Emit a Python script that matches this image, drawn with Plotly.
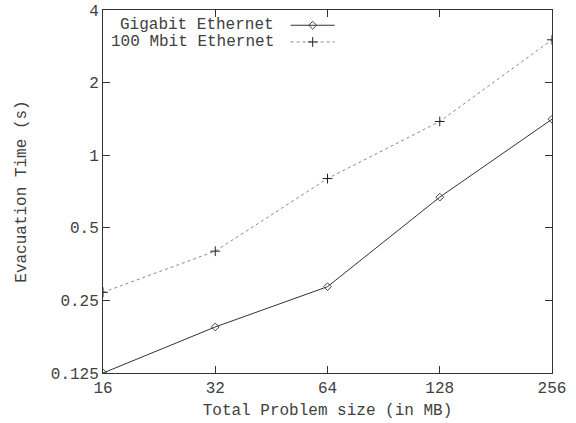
import plotly.graph_objects as go
import math

sizes = [16, 32, 64, 128, 256]
gigabit = [0.125, 0.194, 0.285, 0.67, 1.41]
mbit100 = [0.27, 0.40, 0.80, 1.38, 3.01]
xticks = [16, 32, 64, 128, 256]
yticks = [0.125, 0.25, 0.5, 1, 2, 4]
yticktext = ["0.125", "0.25", "0.5", "1", "2", "4"]
names = ["Gigabit Ethernet", "100 Mbit Ethernet"]

FONT = "Liberation Mono"
FS = 16
TXT = "#404040"
fig = go.Figure()
fig.add_trace(go.Scatter(x=sizes, y=gigabit, mode="lines+markers", name=names[0],
                         line=dict(color="#333333", width=1),
                         marker=dict(symbol="diamond-open", size=6, color="#444444", line=dict(width=1))))
fig.add_trace(go.Scatter(x=sizes, y=mbit100, mode="lines+markers", name=names[1],
                         line=dict(color="#888888", width=1, dash="dot"),
                         marker=dict(symbol="cross-thin-open", size=7, color="#222222", line=dict(width=1, color="#222222"))))

# custom gnuplot-style legend (text right, sample on the right) on an overlay axis
leg_y = [0.958, 0.912]
for i, (nm, tr) in enumerate(zip(names, fig.data[:2])):
    fig.add_trace(go.Scatter(x=[0.418, 0.467, 0.516], y=[leg_y[i]] * 3, mode="lines", xaxis="x2", yaxis="y2",
                             line=tr.line, showlegend=False, hoverinfo="skip"))
    fig.add_trace(go.Scatter(x=[0.467], y=[leg_y[i]], mode="markers", xaxis="x2", yaxis="y2",
                             marker=tr.marker, showlegend=False, hoverinfo="skip"))
    fig.add_annotation(x=0.386, y=leg_y[i], xref="x2", yref="y2", text=nm, showarrow=False,
                       xanchor="right", yanchor="middle", font=dict(family=FONT, size=FS, color=TXT))

axis_common = dict(showline=True, linecolor="#333333", linewidth=1, mirror="allticks", ticks="inside",
                   ticklen=7, tickcolor="#333333", showgrid=False, zeroline=False, automargin=False,
                   tickfont=dict(family=FONT, size=FS, color=TXT))
fig.update_layout(
    width=576, height=423, plot_bgcolor="white", paper_bgcolor="white", showlegend=False,
    margin=dict(l=103, r=24, t=10, b=50, autoexpand=False),
    xaxis=dict(type="log", range=[math.log10(16), math.log10(256)], tickvals=xticks,
               ticktext=[str(v) for v in xticks],
               title=dict(text="Total Problem size (in MB)", font=dict(family=FONT, size=FS, color=TXT), standoff=6),
               **axis_common),
    yaxis=dict(type="log", range=[math.log10(0.125), math.log10(4)], tickvals=yticks, ticktext=yticktext,
               title=dict(text="Evacuation Time (s)", font=dict(family=FONT, size=FS, color=TXT), standoff=20),
               **axis_common),
    xaxis2=dict(range=[0, 1], overlaying="x", visible=False, fixedrange=True),
    yaxis2=dict(range=[0, 1], overlaying="y", visible=False, fixedrange=True),
)
fig.write_html("out.html", config={"displayModeBar": False},
               post_script="document.body.style.margin='0';document.body.style.overflow='hidden';")
